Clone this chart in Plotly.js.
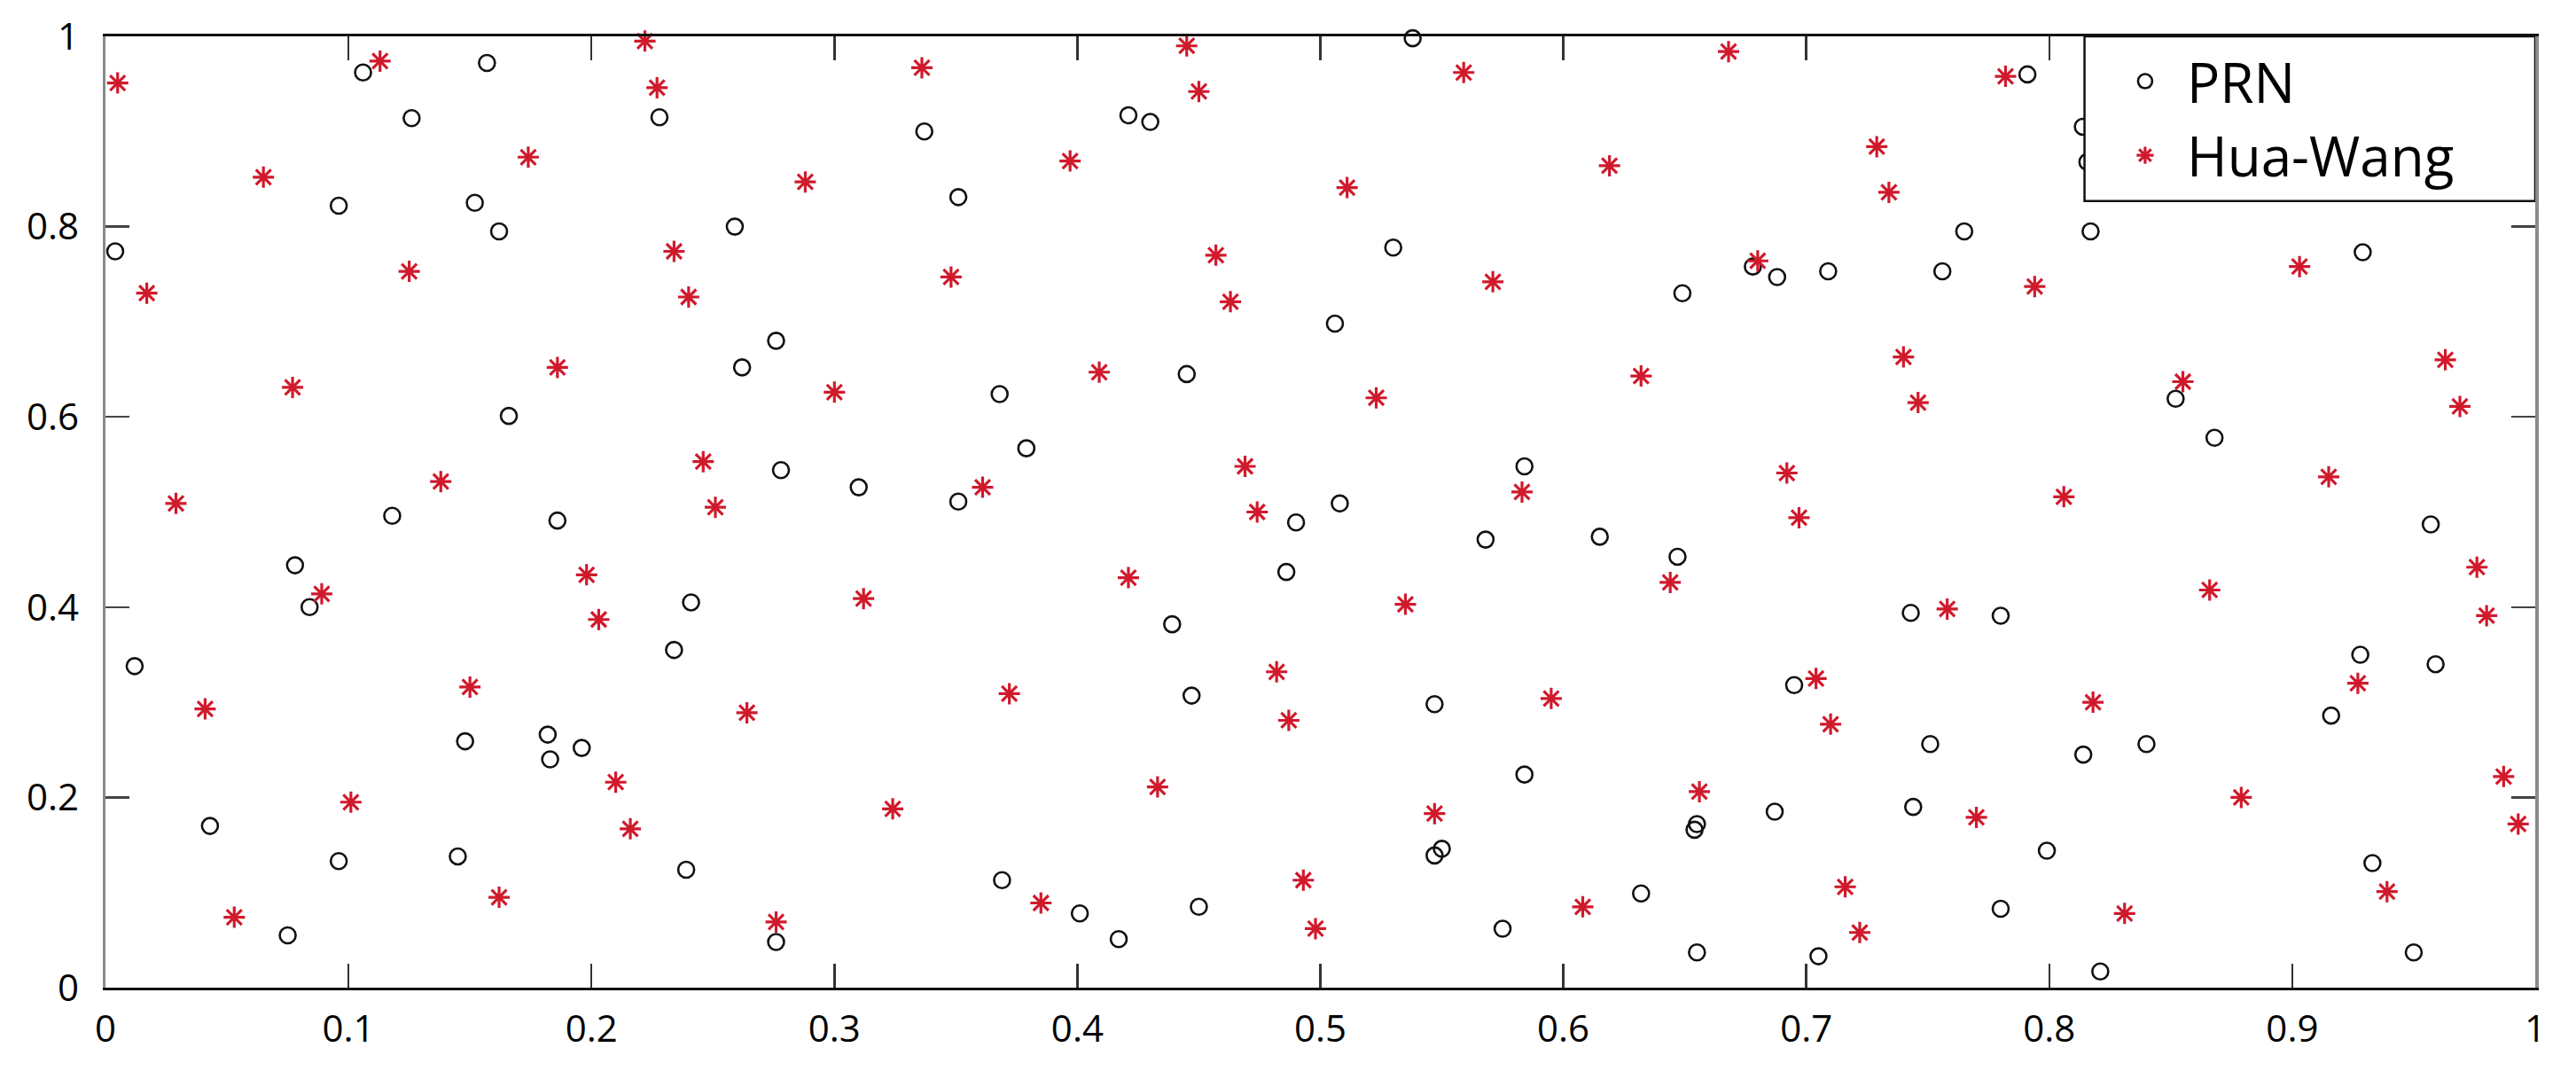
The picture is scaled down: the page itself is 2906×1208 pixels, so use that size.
<!DOCTYPE html>
<html>
<head>
<meta charset="utf-8">
<script src="https://cdn.plot.ly/plotly-3.0.1.min.js"></script>
<style>
  html, body { margin: 0; padding: 0; background: #fff; }
  #chart { width: 2906px; height: 1208px; }
</style>
</head>
<body>
<div id="chart"></div>
<script>
// PRN points (black open circles)
const prnX = [0.106, 0.157, 0.126, 0.096, 0.152, 0.162, 0.004, 0.166, 0.118, 0.228,
              0.259, 0.276, 0.262, 0.278, 0.310, 0.186, 0.337, 0.421, 0.430, 0.351,
              0.445, 0.368, 0.379, 0.351, 0.490, 0.538, 0.530, 0.506, 0.649, 0.584,
              0.508, 0.791, 0.678, 0.688, 0.709, 0.756, 0.765, 0.817, 0.8138, 0.8157,
              0.929, 0.852, 0.868,
              0.078, 0.084, 0.012, 0.148, 0.043, 0.096, 0.145, 0.075, 0.241, 0.234,
              0.182, 0.183, 0.196, 0.239, 0.276, 0.486, 0.439, 0.447, 0.369, 0.401,
              0.417, 0.450, 0.568, 0.615, 0.647, 0.547, 0.584, 0.550, 0.547, 0.655,
              0.654, 0.575, 0.632, 0.655, 0.743, 0.780, 0.695, 0.751, 0.814, 0.687,
              0.744, 0.799, 0.780, 0.705, 0.821, 0.957, 0.928, 0.959, 0.916, 0.840,
              0.933, 0.950];
const prnY = [0.962, 0.972, 0.914, 0.822, 0.825, 0.795, 0.774, 0.601, 0.496, 0.915,
              0.800, 0.680, 0.652, 0.544, 0.526, 0.491, 0.900, 0.917, 0.910, 0.831,
              0.645, 0.624, 0.567, 0.511, 0.489, 0.998, 0.778, 0.698, 0.730, 0.548,
              0.509, 0.960, 0.758, 0.747, 0.753, 0.753, 0.795, 0.795, 0.905, 0.868,
              0.773, 0.619, 0.578,
              0.444, 0.400, 0.338, 0.259, 0.170, 0.133, 0.138, 0.055, 0.405, 0.355,
              0.266, 0.240, 0.252, 0.124, 0.048, 0.437, 0.382, 0.307, 0.113, 0.078,
              0.051, 0.085, 0.471, 0.474, 0.453, 0.298, 0.224, 0.146, 0.139, 0.172,
              0.166, 0.062, 0.099, 0.037, 0.394, 0.391, 0.318, 0.256, 0.245, 0.185,
              0.190, 0.144, 0.083, 0.033, 0.017, 0.487, 0.350, 0.340, 0.286, 0.256,
              0.131, 0.037];

// Hua-Wang points (red asterisks)
const hwX = [0.005, 0.113, 0.065, 0.125, 0.017, 0.077, 0.138, 0.029,
             0.222, 0.227, 0.174, 0.288, 0.234, 0.240, 0.186, 0.300, 0.246, 0.251,
             0.336, 0.445, 0.450, 0.397, 0.457, 0.463, 0.348, 0.409, 0.469, 0.361, 0.474,
             0.559, 0.668, 0.511, 0.619, 0.571, 0.523, 0.632, 0.583,
             0.782, 0.729, 0.734, 0.680, 0.794, 0.740, 0.746, 0.692, 0.697, 0.806,
             0.903, 0.855, 0.963, 0.969, 0.915,
             0.089, 0.041, 0.150, 0.101, 0.053, 0.162,
             0.198, 0.203, 0.312, 0.264, 0.210, 0.216, 0.324, 0.276,
             0.421, 0.372, 0.482, 0.487, 0.433, 0.385, 0.493, 0.498,
             0.535, 0.644, 0.595, 0.547, 0.656, 0.608,
             0.758, 0.704, 0.710, 0.818, 0.770, 0.716, 0.722, 0.831,
             0.976, 0.980, 0.866, 0.927, 0.879, 0.987, 0.993, 0.939];
const hwY = [0.951, 0.974, 0.852, 0.753, 0.730, 0.631, 0.532, 0.509,
             0.995, 0.946, 0.873, 0.847, 0.774, 0.726, 0.652, 0.626, 0.553, 0.505,
             0.967, 0.990, 0.942, 0.869, 0.770, 0.721, 0.747, 0.647, 0.548, 0.526, 0.500,
             0.962, 0.984, 0.841, 0.864, 0.742, 0.620, 0.643, 0.521,
             0.958, 0.884, 0.836, 0.764, 0.737, 0.663, 0.615, 0.541, 0.494, 0.516,
             0.758, 0.637, 0.660, 0.611, 0.537,
             0.414, 0.293, 0.316, 0.195, 0.074, 0.095,
             0.434, 0.387, 0.409, 0.289, 0.216, 0.167, 0.188, 0.069,
             0.431, 0.309, 0.332, 0.281, 0.211, 0.089, 0.113, 0.062,
             0.403, 0.426, 0.304, 0.183, 0.206, 0.085,
             0.398, 0.325, 0.277, 0.300, 0.179, 0.106, 0.058, 0.078,
             0.442, 0.391, 0.418, 0.320, 0.200, 0.222, 0.172, 0.101];

const xTicks = [0, 0.1, 0.2, 0.3, 0.4, 0.5, 0.6, 0.7, 0.8, 0.9, 1];
const xTickText = ['0', '0.1', '0.2', '0.3', '0.4', '0.5', '0.6', '0.7', '0.8', '0.9', '1'];
const yTicks = [0, 0.2, 0.4, 0.6, 0.8, 1];
const yTickText = ['0', '0.2', '0.4', '0.6', '0.8', '1'];
const seriesNames = ['PRN', 'Hua-Wang'];

const FONT = '"Open Sans", "Noto Sans", "DejaVu Sans", sans-serif';

const traces = [
  {
    type: 'scatter', mode: 'markers', name: seriesNames[0],
    x: prnX, y: prnY, cliponaxis: false,
    marker: { symbol: 'circle-open', size: 18, color: '#111111', line: { width: 2.6, color: '#111111' } }
  },
  {
    type: 'scatter', mode: 'markers', name: seriesNames[1],
    x: hwX, y: hwY, cliponaxis: false,
    marker: { symbol: 'asterisk-open', size: 20, color: '#d01a2c', line: { width: 3.2, color: '#d01a2c' } }
  }
];

const layout = {
  width: 2906, height: 1208,
  margin: { l: 119, r: 46, t: 41, b: 94, pad: 0 },
  paper_bgcolor: '#ffffff', plot_bgcolor: '#ffffff',
  font: { family: FONT, color: '#000000', size: 42 },
  showlegend: true,
  xaxis: {
    range: [0, 1], tickvals: xTicks, ticktext: xTickText,
    ticks: 'inside', ticklen: 27, tickwidth: 2.5, tickcolor: '#333333',
    showline: true, linecolor: '#111111', linewidth: 3, mirror: 'ticks',
    showgrid: false, zeroline: false,
    tickfont: { family: FONT, size: 42, color: '#000000' },
    ticklabelstandoff: 8
  },
  yaxis: {
    range: [0, 1], tickvals: yTicks, ticktext: yTickText,
    ticks: 'inside', ticklen: 27, tickwidth: 2.5, tickcolor: '#444444',
    showline: true, linecolor: '#8a8a8a', linewidth: 3.5, mirror: 'ticks',
    showgrid: false, zeroline: false,
    tickfont: { family: FONT, size: 42, color: '#000000' },
    ticklabelstandoff: 18
  },
  shapes: [
    {
      type: 'rect', xref: 'x', yref: 'y', layer: 'above',
      x0: 0.8145, x1: 1.0, y0: 0.827, y1: 1.0,
      fillcolor: '#ffffff', line: { color: '#111111', width: 2.5 }
    }
  ],
  legend: {
    x: 0.8223, xanchor: 'left', y: 0.9965, yanchor: 'top',
    bgcolor: 'rgba(0,0,0,0)', borderwidth: 0,
    font: { family: FONT, size: 62, color: '#000000' },
    itemwidth: 84, tracegroupgap: 0
  }
};

Plotly.newPlot('chart', traces, layout, { staticPlot: true, displayModeBar: false });
</script>
</body>
</html>
